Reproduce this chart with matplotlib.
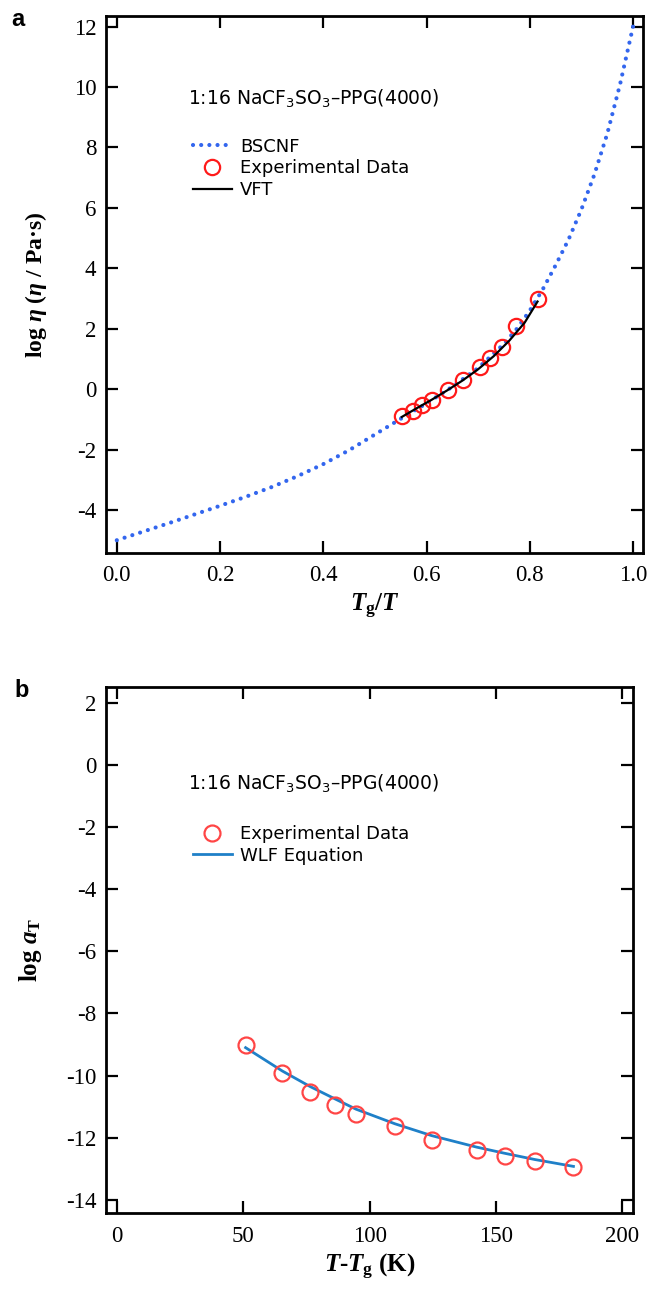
import matplotlib
matplotlib.use('Agg')
import matplotlib.pyplot as plt

plt.rcParams['font.family'] = 'Liberation Serif'
plt.rcParams['axes.unicode_minus'] = False
plt.rcParams['mathtext.fontset'] = 'custom'
plt.rcParams['mathtext.rm'] = 'Liberation Serif:bold'
plt.rcParams['mathtext.it'] = 'Liberation Serif:bold:italic'
plt.rcParams['mathtext.bf'] = 'Liberation Serif:bold'

# panel a : BSCNF curve, experimental viscosity, VFT fit
bscnf_x = [0.0, 0.05, 0.10, 0.15, 0.20, 0.25, 0.30, 0.35, 0.40, 0.45, 0.50,
           0.55, 0.60, 0.65, 0.70, 0.75, 0.775, 0.80, 0.825, 0.85, 0.875,
           0.90, 0.925, 0.95, 0.975, 1.0]
bscnf_y = [-5.0, -4.72, -4.44, -4.15, -3.86, -3.56, -3.24, -2.88, -2.48, -2.02, -1.5,
           -0.98, -0.47, 0.08, 0.70, 1.5, 2.0, 2.6, 3.3, 4.1, 4.95,
           5.95, 7.1, 8.45, 10.1, 12.0]

exp_x = [0.552, 0.574, 0.592, 0.610, 0.642, 0.671, 0.703, 0.723, 0.746, 0.773, 0.815]
exp_y = [-0.88, -0.72, -0.53, -0.35, -0.03, 0.30, 0.72, 1.02, 1.41, 2.09, 2.98]

vft_x = [0.552, 0.58, 0.61, 0.64, 0.67, 0.70, 0.73, 0.76, 0.79, 0.815]
vft_y = [-0.92, -0.64, -0.35, -0.04, 0.29, 0.66, 1.09, 1.6, 2.2, 2.9]

# panel b : shift factor vs T-Tg, WLF fit
dT = [50.9, 65.4, 76.4, 86.3, 94.6, 110.0, 124.5, 142.3, 153.5, 165.4, 180.6]
log_aT = [-9.0, -9.91, -10.52, -10.93, -11.25, -11.63, -12.06, -12.40, -12.59, -12.76, -12.94]

wlf_x = [50.9, 65.4, 76.4, 86.3, 94.6, 110.0, 124.5, 142.3, 153.5, 165.4, 180.6]
wlf_y = [-9.1, -9.85, -10.35, -10.75, -11.08, -11.55, -11.93, -12.3, -12.5, -12.7, -12.92]

sans = 'DejaVu Sans'
title = '1:16 NaCF$_3$SO$_3$\u2013PPG(4000)'

fig = plt.figure(figsize=(6.5, 12.91), dpi=100)
ax1 = fig.add_axes([0.163, 0.5717, 0.826, 0.4159])
ax2 = fig.add_axes([0.163, 0.0604, 0.811, 0.4074])

for ax in (ax1, ax2):
    for s in ax.spines.values():
        s.set_linewidth(2.0)
    ax.tick_params(direction='in', top=True, right=True, length=8.5, width=1.6,
                   labelsize=16.5, pad=7)
    ax.tick_params(axis='x', pad=9)

leg_kw = dict(loc='upper left', frameon=False, prop={'family': sans, 'size': 13},
              handlelength=2.15, handletextpad=0.45, labelspacing=0.2, borderpad=0)

# ---- panel a
ax1.plot(bscnf_x, bscnf_y, color='#3366ee', lw=3, linestyle=(0, (0.01, 1.95)),
         dash_capstyle='round', label='BSCNF')
ax1.plot(exp_x, exp_y, 'o', mfc='none', mec='#ff1a1a', ms=11, mew=1.6,
         label='Experimental Data')
ax1.plot(vft_x, vft_y, color='black', lw=1.6, label='VFT')
ax1.set_xlim(-0.021, 1.019)
ax1.set_ylim(-5.42, 12.35)
ax1.set_xticks([0.0, 0.2, 0.4, 0.6, 0.8, 1.0])
ax1.set_xticklabels(['0.0', '0.2', '0.4', '0.6', '0.8', '1.0'])
ax1.set_yticks(range(-4, 13, 2))
ax1.set_xlabel(r'$T_{\mathrm{g}}/T$', fontsize=18)
ax1.set_ylabel(r'log $\eta$ ($\eta$ / Pa·s)', fontsize=17, fontweight='bold', labelpad=18)
ax1.text(0.138, 9.6, title, family=sans, math_fontfamily='dejavusans',
         fontsize=13.5, va='center')
ax1.legend(bbox_to_anchor=(0.145, 0.79), **leg_kw)

# ---- panel b
ax2.plot(dT, log_aT, 'o', mfc='none', mec='#ff4545', ms=11.5, mew=1.6,
         label='Experimental Data', zorder=3)
ax2.plot(wlf_x, wlf_y, color='#1f80c8', lw=2.0, label='WLF Equation')
ax2.set_xlim(-4.35, 204.2)
ax2.set_ylim(-14.42, 2.5)
ax2.set_xticks([0, 50, 100, 150, 200])
ax2.set_yticks(range(-14, 3, 2))
ax2.set_xlabel(r'$T$-$T_{\mathrm{g}}$ (K)', fontsize=18, fontweight='bold')
ax2.set_ylabel(r'log $a_{\mathrm{T}}$', fontsize=18, fontweight='bold', labelpad=16)
ax2.text(28, -0.6, title, family=sans, math_fontfamily='dejavusans',
         fontsize=13.5, va='center')
ax2.legend(bbox_to_anchor=(0.148, 0.755), **leg_kw)

fig.text(0.018, 0.985, 'a', family='Liberation Sans', fontweight='bold',
         fontsize=17, va='center')
fig.text(0.022, 0.465, 'b', family='Liberation Sans', fontweight='bold',
         fontsize=17, va='center')

fig.savefig('out.png', dpi=100)
